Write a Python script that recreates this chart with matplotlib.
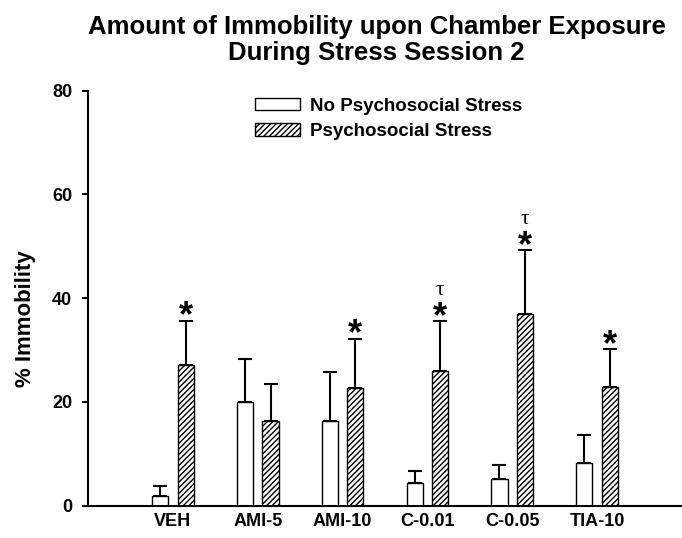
import matplotlib
matplotlib.use("Agg")
import matplotlib.pyplot as plt
import numpy as np

plt.rcParams['font.family'] = ['Liberation Sans', 'DejaVu Sans']
plt.rcParams['hatch.linewidth'] = 1.0

categories = ["VEH", "AMI-5", "AMI-10", "C-0.01", "C-0.05", "TIA-10"]
no_stress = [1.9, 19.9, 16.3, 4.3, 5.2, 8.2]
no_stress_err = [1.9, 8.4, 9.5, 2.4, 2.6, 5.4]
stress = [27.1, 16.4, 22.7, 25.9, 36.9, 22.9]
stress_err = [8.6, 7.0, 9.5, 9.7, 12.3, 7.3]
star = [True, False, True, True, True, True]
tau = [False, False, False, True, True, False]

fig = plt.figure(figsize=(6.82, 5.38), dpi=100)
ax = fig.add_axes([0.129, 0.060, 0.871, 0.7714])

x = np.arange(len(categories))
w = 0.19
off = 0.151
ax.bar(x - off, no_stress, w, color='white', edgecolor='black', linewidth=1.0,
       label='No Psychosocial Stress', zorder=2)
ax.bar(x + off, stress, w, color='white', edgecolor='black', linewidth=1.0,
       hatch='//////', label='Psychosocial Stress', zorder=2)
ax.errorbar(x - off, no_stress, yerr=[np.zeros(len(x)), no_stress_err], fmt='none',
            ecolor='black', elinewidth=1.5, capsize=4.7, capthick=1.5, zorder=1)
ax.errorbar(x + off, stress, yerr=[np.zeros(len(x)), stress_err], fmt='none',
            ecolor='black', elinewidth=1.5, capsize=4.7, capthick=1.5, zorder=1)

for i in range(len(x)):
    top = stress[i] + stress_err[i]
    if star[i]:
        ax.annotate('*', (x[i] + off, top), xytext=(0, -10), textcoords='offset points',
                    ha='center', va='bottom', fontsize=26, fontweight='bold')
    if tau[i]:
        ax.annotate('τ', (x[i] + off, top), xytext=(0, 19), textcoords='offset points',
                    ha='center', va='baseline', fontsize=15, family='Liberation Serif')

ax.set_xlim(-1, 6)
ax.set_ylim(0, 80)
ax.set_yticks([0, 20, 40, 60, 80])
ax.set_xticks(x)
ax.set_xticklabels(categories, fontsize=13, fontweight='bold')
for lab in ax.get_yticklabels():
    lab.set_fontsize(13)
    lab.set_fontweight('bold')
ax.tick_params(axis='x', length=0, pad=5)
ax.tick_params(axis='y', length=4.5, width=1.5, direction='out', pad=7)
ax.spines['top'].set_visible(False)
ax.spines['right'].set_visible(False)
ax.spines['left'].set_linewidth(1.5)
ax.spines['bottom'].set_linewidth(1.5)
ax.set_ylabel('% Immobility', fontsize=16, fontweight='bold')
ax.yaxis.set_label_coords(-0.087, 0.45)

fig.text(0.552, 0.973, 'Amount of Immobility upon Chamber Exposure\nDuring Stress Session 2',
         ha='center', va='top', fontsize=18.5, fontweight='bold', linespacing=1.12)

leg = ax.legend(loc='upper left', bbox_to_anchor=(0.360, 0.836), bbox_transform=fig.transFigure,
                frameon=False, handlelength=2.4, handleheight=0.66,
                handletextpad=0.55, labelspacing=0.45, borderpad=0,
                prop={'weight': 'bold', 'size': 13.5})
fig.savefig('out.png', dpi=100)
